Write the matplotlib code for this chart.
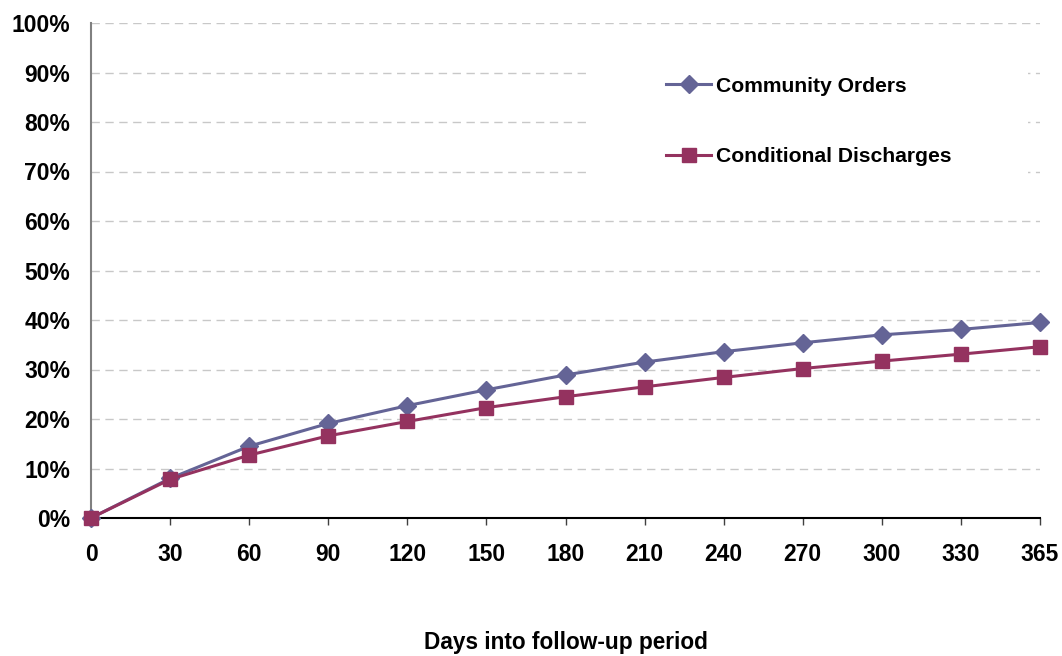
"""Proven reoffending rate by days into the follow-up period."""
import matplotlib

matplotlib.use("Agg")
import matplotlib.pyplot as plt
from matplotlib.patches import Rectangle
from matplotlib.ticker import PercentFormatter

plt.rcParams["font.family"] = ["Liberation Sans", "DejaVu Sans"]
plt.rcParams["font.weight"] = "bold"

# Datos
days = ["0", "30", "60", "90", "120", "150", "180", "210", "240", "270", "300", "330", "365"]
community_orders = [0.0, 8.0, 14.5, 19.1, 22.7, 25.9, 28.9, 31.5, 33.6, 35.4, 37.0, 38.1, 39.5]
conditional_discharges = [0.0, 7.8, 12.7, 16.6, 19.5, 22.3, 24.5, 26.5, 28.4, 30.2, 31.7, 33.1, 34.6]

C_CO = "#646496"
C_CD = "#94325f"

fig = plt.figure(figsize=(10.62, 6.56), dpi=100)
ax = fig.add_axes([91 / 1062, 1 - 518 / 656, (1040 - 91) / 1062, (518 - 23) / 656])

x = list(range(len(days)))
ax.plot(x, community_orders, color=C_CO, lw=2.2, marker="D", ms=9,
        label="Community Orders", zorder=3, clip_on=False)
ax.plot(x, conditional_discharges, color=C_CD, lw=2.2, marker="s", ms=10,
        label="Conditional Discharges", zorder=4, clip_on=False)

ax.set_xlim(0, len(days) - 1)
ax.set_ylim(0, 100)
ax.set_xticks(x)
ax.set_xticklabels(days)
ax.set_yticks(range(0, 101, 10))
ax.yaxis.set_major_formatter(PercentFormatter(decimals=0))
ax.tick_params(axis="both", labelsize=16.5)
ax.tick_params(axis="y", length=0, pad=15)
ax.tick_params(axis="x", length=5, width=1, color="#404040", pad=13)

ax.grid(axis="y", color="#c8c8c8", ls=(0, (6, 4)), lw=1)
ax.set_axisbelow(True)
for s in ("top", "right"):
    ax.spines[s].set_visible(False)
ax.spines["left"].set_color("#808080")
ax.spines["left"].set_linewidth(1.5)
ax.spines["bottom"].set_linewidth(1.5)

ax.set_xlabel("Days into follow-up period", fontsize=16.3, fontweight="bold", va="center")
ax.xaxis.set_label_coords(0.5, -0.252)

# fondo blanco de la leyenda (tapa la cuadrícula)
ax.add_patch(Rectangle((0.526, 0.6525), 0.461, 0.29, transform=ax.transAxes,
                       facecolor="white", edgecolor="none", zorder=1))

ax.legend(loc="upper left", bbox_to_anchor=(0.595, 0.913), fontsize=15.2,
          handlelength=2.13, handletextpad=0.25, labelspacing=2.45,
          frameon=False, borderpad=0)

fig.savefig("out.png", dpi=100)
